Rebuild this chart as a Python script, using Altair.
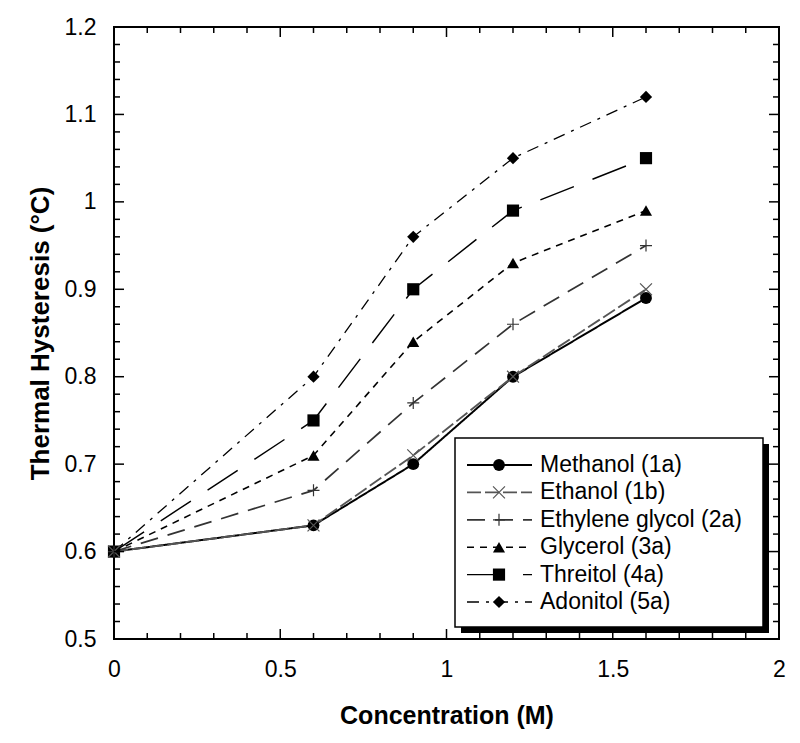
import altair as alt
import pandas as pd
import numpy as np

# ---- data ----
conc = [0.0, 0.6, 0.9, 1.2, 1.6]
series_names = ["Methanol (1a)", "Ethanol (1b)", "Ethylene glycol (2a)",
                "Glycerol (3a)", "Threitol (4a)", "Adonitol (5a)"]
methanol = [0.60, 0.63, 0.70, 0.80, 0.89]
ethanol = [0.60, 0.63, 0.71, 0.80, 0.90]
ethylene_glycol = [0.60, 0.67, 0.77, 0.86, 0.95]
glycerol = [0.60, 0.71, 0.84, 0.93, 0.99]
threitol = [0.60, 0.75, 0.90, 0.99, 1.05]
adonitol = [0.60, 0.80, 0.96, 1.05, 1.12]
series_values = [methanol, ethanol, ethylene_glycol, glycerol, threitol, adonitol]

x_labels = [0, 0.5, 1, 1.5, 2]
y_labels = [0.5, 0.6, 0.7, 0.8, 0.9, 1.0, 1.1, 1.2]

# ---- styles ----
W, H = 665, 612
FONT = "Liberation Sans"
dashes = [[1, 0], [14, 4], [18, 10], [7, 6], [36, 20], [12, 7, 3, 7]]
shapes = ["circle", "M-1,-1L1,1M-1,1L1,-1", "M-1,0L1,0M0,-1L0,1",
          "triangle-up", "square", "M0,-1L1,0L0,1L-1,0Z"]
colors = ["#000000", "#555555", "#333333", "#000000", "#000000", "#000000"]
widths = [2.0, 1.3, 1.6, 2.0, 2.0, 2.0]
sizes = [140, 150, 170, 200, 200, 200]

rows = []
for name, vals in zip(series_names, series_values):
    for c, v in zip(conc, vals):
        rows.append({"series": name, "conc": c, "th": v})
df = pd.DataFrame(rows)

xscale = alt.Scale(domain=[0, 2], nice=False, zero=False)
yscale = alt.Scale(domain=[0.5, 1.2], nice=False, zero=False)

dash_enc = alt.StrokeDash("series:N", scale=alt.Scale(domain=series_names, range=dashes), legend=None)
color_enc = alt.Color("series:N", scale=alt.Scale(domain=series_names, range=colors), legend=None)
width_enc = alt.StrokeWidth("series:N", scale=alt.Scale(domain=series_names, range=widths), legend=None)
shape_enc = alt.Shape("series:N", scale=alt.Scale(domain=series_names, range=shapes), legend=None)
size_enc = alt.Size("series:N", scale=alt.Scale(domain=series_names, range=sizes), legend=None)

x_axis = alt.Axis(values=x_labels, format="~g", ticks=False, domain=False, grid=False,
                  labelFont=FONT, labelFontSize=23, labelColor="#000", labelPadding=19,
                  labelFlush=False, labelOverlap=False,
                  title="Concentration (M)", titleFont=FONT, titleFontSize=25,
                  titleFontWeight="bold", titleColor="#000", titlePadding=22)
y_axis = alt.Axis(values=y_labels, format="~g", ticks=False, domain=False, grid=False,
                  labelFont=FONT, labelFontSize=23, labelColor="#000", labelPadding=18,
                  labelFlush=False, labelOverlap=False,
                  title="Thermal Hysteresis (°C)", titleFont=FONT, titleFontSize=26,
                  titleFontWeight="bold", titleColor="#000", titlePadding=11)

X = alt.X("conc:Q", scale=xscale, axis=x_axis)
Y = alt.Y("th:Q", scale=yscale, axis=y_axis)

lines = alt.Chart(df).mark_line().encode(
    x=X, y=Y,
    strokeDash=dash_enc, color=color_enc, strokeWidth=width_enc,
    detail="series:N",
)

filled_names = [series_names[i] for i in (0, 3, 4, 5)]
open_names = [series_names[i] for i in (1, 2)]

pts_filled = alt.Chart(df).mark_point(filled=True, opacity=1).encode(
    x=X, y=Y, shape=shape_enc, size=size_enc, color=color_enc,
).transform_filter(alt.FieldOneOfPredicate(field="series", oneOf=filled_names))

pts_open = alt.Chart(df).mark_point(filled=False, opacity=1, strokeWidth=1.2).encode(
    x=X, y=Y, shape=shape_enc, size=size_enc, color=color_enc,
).transform_filter(alt.FieldOneOfPredicate(field="series", oneOf=open_names))

# ---- inward ticks on all four sides ----
x_major = [0.5, 1.0, 1.5]
x_minor = [v for v in np.round(np.arange(0.1, 2.0, 0.1), 2) if abs(v * 2 - round(v * 2)) > 1e-6]
y_major = [0.6, 0.7, 0.8, 0.9, 1.0, 1.1]
y_minor = [v for v in np.round(np.arange(0.52, 1.2, 0.02), 2) if abs(v * 10 - round(v * 10)) > 1e-6]

def xticks(vals, ln):
    d = pd.DataFrame({"conc": vals})
    base = alt.Chart(d).mark_rule(color="#000", strokeWidth=1.5)
    b = base.encode(x=X, y=alt.value(H), y2=alt.value(H - ln))
    t = base.encode(x=X, y=alt.value(0), y2=alt.value(ln))
    return [b, t]

def yticks(vals, ln):
    d = pd.DataFrame({"th": vals})
    base = alt.Chart(d).mark_rule(color="#000", strokeWidth=1.5)
    l = base.encode(y=Y, x=alt.value(0), x2=alt.value(ln))
    r = base.encode(y=Y, x=alt.value(W), x2=alt.value(W - ln))
    return [l, r]

tick_layers = xticks(x_major, 10) + xticks(x_minor, 6) + yticks(y_major, 10) + yticks(y_minor, 6)

main = alt.layer(lines, pts_filled, pts_open, *tick_layers)

# ---- legend box ----
box_df = pd.DataFrame({"k": [0]})
shadow = alt.Chart(box_df).mark_rect(color="#000").encode(
    x=alt.value(347), x2=alt.value(655), y=alt.value(417), y2=alt.value(606))
box = alt.Chart(box_df).mark_rect(fill="#fff", stroke="#000", strokeWidth=1.5).encode(
    x=alt.value(341), x2=alt.value(649), y=alt.value(411), y2=alt.value(600))

leg_df = pd.DataFrame({"series": series_names, "row": list(range(len(series_names)))})
leg_y = alt.Y("row:Q", scale=alt.Scale(domain=[0, 5], range=[438, 575], nice=False, zero=False),
              axis=None)
leg_lines = alt.Chart(leg_df).mark_rule().encode(
    x=alt.value(353), x2=alt.value(418), y=leg_y,
    strokeDash=dash_enc, color=color_enc, strokeWidth=width_enc)
leg_pf = alt.Chart(leg_df).mark_point(filled=True, opacity=1).encode(
    x=alt.value(385), y=leg_y, shape=shape_enc, size=size_enc, color=color_enc,
).transform_filter(alt.FieldOneOfPredicate(field="series", oneOf=filled_names))
leg_po = alt.Chart(leg_df).mark_point(filled=False, opacity=1, strokeWidth=1.2).encode(
    x=alt.value(385), y=leg_y, shape=shape_enc, size=size_enc, color=color_enc,
).transform_filter(alt.FieldOneOfPredicate(field="series", oneOf=open_names))
leg_text = alt.Chart(leg_df).mark_text(align="left", baseline="middle", font=FONT,
                                       fontSize=23, color="#000").encode(
    x=alt.value(426), y=leg_y, text="series:N")

legend = alt.layer(shadow, box, leg_lines, leg_pf, leg_po, leg_text)

chart = alt.layer(main, legend).resolve_scale(
    y="independent", shape="independent", size="independent",
    color="independent", strokeDash="independent", strokeWidth="independent",
).resolve_axis(y="independent").properties(
    width=W, height=H,
    autosize=alt.AutoSizeParams(type="none"),
    padding={"left": 106, "top": 19, "right": 10, "bottom": 90},
    background="#ffffff",
).configure_view(stroke="#000", strokeWidth=2)

chart.save("out.html", embed_options={"renderer": "svg", "actions": False})
